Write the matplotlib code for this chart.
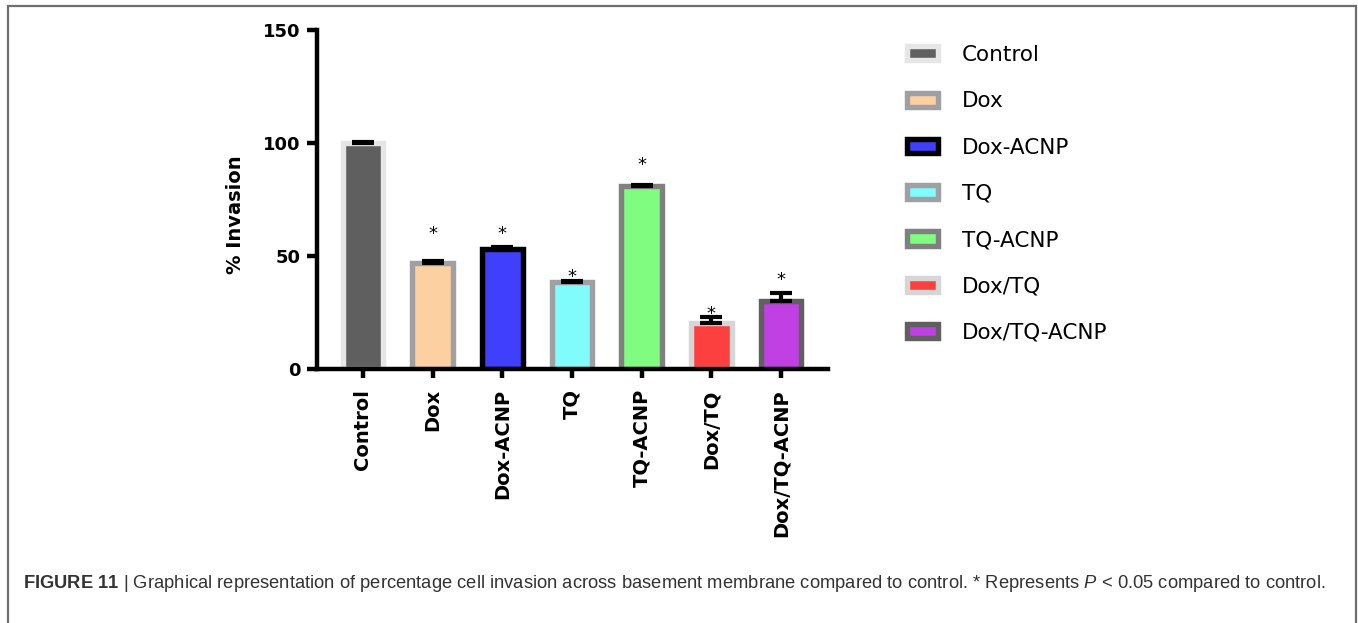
import numpy as np
import matplotlib
matplotlib.use('Agg')
import matplotlib.pyplot as plt
from matplotlib.patches import Rectangle

# data
groups = ['Control', 'Dox', 'Dox-ACNP', 'TQ', 'TQ-ACNP', 'Dox/TQ', 'Dox/TQ-ACNP']
invasion = [100, 46.8, 53.0, 38.3, 81.0, 20.4, 30.0]
err = [0.3, 0.9, 0.9, 0.8, 0.5, 2.8, 3.5]
star_y = [None, 59.8, 59.8, 40.6, 90.3, 24.3, 39.4]

fills = ['#5f5f5f', '#fcd0a0', '#4040fc', '#80fcfc', '#80fc80', '#fc4040', '#c040e4']
edges = ['#e6e6e6', '#a0a0a4', '#000000', '#a0a0a4', '#808080', '#d6d6d6', '#606060']

caption = (r'$\mathbf{FIGURE\ 11}$ | Graphical representation of percentage cell invasion across '
           r'basement membrane compared to control. * Represents $\mathit{P}$ < 0.05 compared to control.')

plt.rcParams['font.family'] = 'DejaVu Sans'
plt.rcParams['mathtext.fontset'] = 'custom'
plt.rcParams['mathtext.rm'] = 'Liberation Sans'
plt.rcParams['mathtext.bf'] = 'Liberation Sans:bold'
plt.rcParams['mathtext.it'] = 'Liberation Sans:italic'

fig = plt.figure(figsize=(13.58, 6.23), dpi=100)
ax = fig.add_axes([0.2334, 0.4077, 0.3763, 0.5441])

x = np.arange(len(groups))
for i in range(len(groups)):
    ax.bar(x[i], invasion[i], width=0.58, color=fills[i], edgecolor=edges[i],
           linewidth=3.9, label=groups[i], zorder=2)

ax.errorbar(x, invasion, yerr=[np.zeros(len(err)), err], fmt='none', ecolor='black',
            elinewidth=3, capsize=8, capthick=3, zorder=3)

for i in range(len(groups)):
    if star_y[i] is not None:
        ax.text(x[i], star_y[i], '*', ha='center', va='center', fontsize=13, zorder=4)

ax.set_xlim(-0.66, 6.674)
ax.set_ylim(0, 150)
ax.set_yticks([0, 50, 100, 150])
ax.set_xticks(x)
ax.set_xticklabels(groups, rotation=90, fontsize=14, fontweight='bold', va='top')
ax.tick_params(axis='y', labelsize=13, width=3.2, length=7, pad=5)
ax.tick_params(axis='x', width=3.2, length=6.5, pad=8)
for t in ax.get_yticklabels():
    t.set_fontweight('bold')
ax.set_ylabel('% Invasion', fontsize=14, fontweight='bold')
ax.yaxis.set_label_coords(-0.14, 0.454)

ax.spines['top'].set_visible(False)
ax.spines['right'].set_visible(False)
for s in ['left', 'bottom']:
    ax.spines[s].set_linewidth(3.2)
    ax.spines[s].set_zorder(5)

ax.legend(loc='upper left', bbox_to_anchor=(907 / 1358, 1 - 45 / 623),
          bbox_transform=fig.transFigure, frameon=False, fontsize=15.5,
          handlelength=1.46, handleheight=0.63, handletextpad=1.1,
          labelspacing=1.22, borderpad=0, borderaxespad=0)

# outer frame of the figure panel
fig.patches.append(Rectangle((7.5 / 1358, -0.1), 1348 / 1358, 1.1 - 6 / 623,
                             transform=fig.transFigure, fill=False,
                             edgecolor='#6e6e6e', linewidth=1.6))

fig.text(23 / 1358, 1 - 583 / 623, caption, fontsize=13.2, color='#333333',
         ha='left', va='center', family='Liberation Sans')

fig.savefig('out.png', dpi=100)
